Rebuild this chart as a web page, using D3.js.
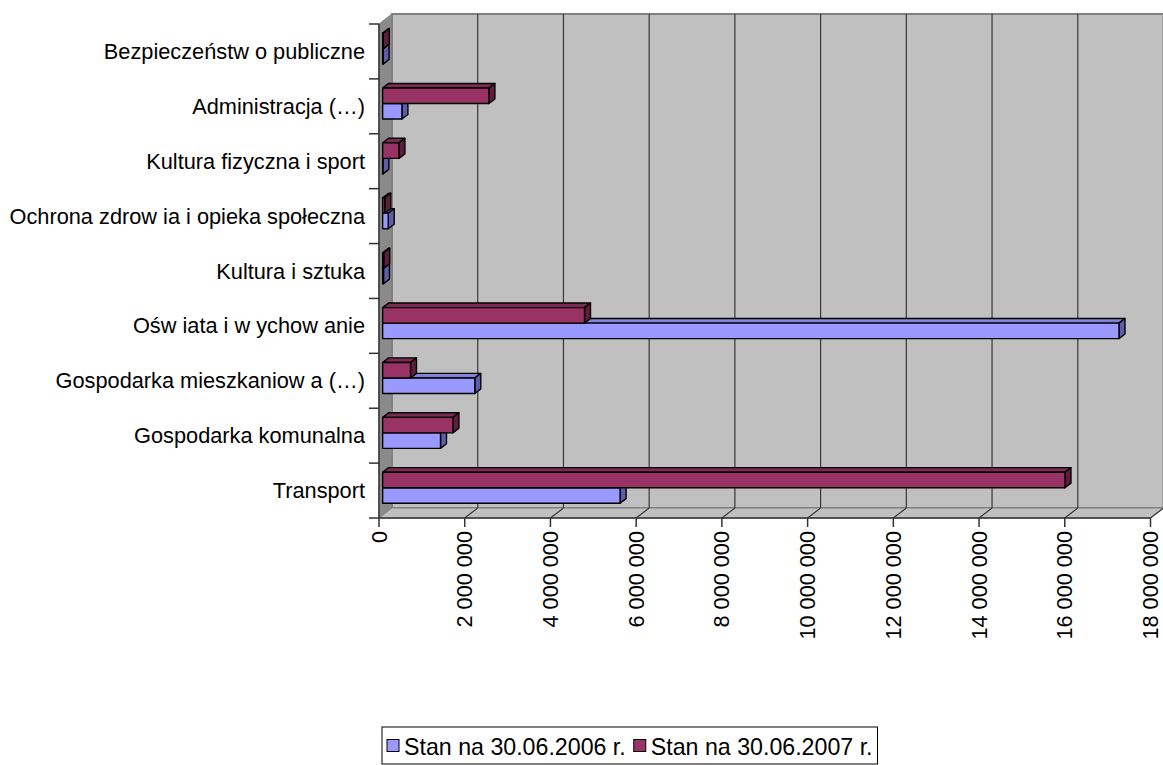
<!DOCTYPE html>
<html><head><meta charset="utf-8">
<script src="https://cdn.jsdelivr.net/npm/d3@7"></script>
<style>body{margin:0;background:#fff}svg{display:block}</style>
</head><body>
<svg id="c" width="1163" height="765"></svg>
<script>
// Categories bottom -> top (as displayed)
const categories = ["Transport","Gospodarka komunalna","Gospodarka mieszkaniow a (…)","Ośw iata i w ychow anie","Kultura i sztuka","Ochrona zdrow ia i opieka społeczna","Kultura fizyczna i sport","Administracja (…)","Bezpieczeństw o publiczne"];
const series2006 = [5540000,1350000,2150000,17180000,20000,130000,5000,450000,10000];
const series2007 = [15920000,1640000,650000,4710000,25000,50000,380000,2480000,15000];
const seriesNames = ["Stan na 30.06.2006 r.","Stan na 30.06.2007 r."];
const tickValues = [0,2000000,4000000,6000000,8000000,10000000,12000000,14000000,16000000,18000000];
const tickLabels = ["0","2 000 000","4 000 000","6 000 000","8 000 000","10 000 000","12 000 000","14 000 000","16 000 000","18 000 000"];

const svg = d3.select("#c");
const FONT = "'Liberation Sans', Arial, sans-serif";
const dx = 13, dy = -10;           // wall depth vector
const yTop = 24, yBot = 518;
const x = d3.scaleLinear().domain([0,18000000]).range([379,1150.5]);
const y = d3.scaleBand().domain(categories).range([yBot,yTop]).padding(0);
const bw = y.bandwidth();
const d0 = 0.28, d1 = 0.74;

// walls
const gWall = svg.append("g");
gWall.append("polygon")
  .attr("points",[[x(0),yTop],[x(0)+dx,yTop+dy],[x(0)+dx,yBot+dy],[x(0),yBot]].join(" "))
  .attr("fill","#8a8a8a").attr("stroke","#808080").attr("stroke-width",1);
gWall.append("rect")
  .attr("x",x(0)+dx).attr("y",yTop+dy).attr("width",x(18000000)-x(0)).attr("height",yBot-yTop)
  .attr("fill","#c0c0c0").attr("stroke","#808080").attr("stroke-width",2);
gWall.append("polygon")
  .attr("points",[[x(0),yBot],[x(0)+dx,yBot+dy],[x(18000000)+dx,yBot+dy],[x(18000000),yBot]].join(" "))
  .attr("fill","#c0c0c0").attr("stroke","#808080").attr("stroke-width",1);

// gridlines
const grid = tickValues.filter(v => v>0);
svg.append("g").selectAll("line.gv").data(grid.filter(v=>v<18000000)).join("line")
  .attr("x1",d=>x(d)+dx).attr("x2",d=>x(d)+dx).attr("y1",yTop+dy).attr("y2",yBot+dy)
  .attr("stroke","#383838").attr("stroke-width",1.2);
svg.append("g").selectAll("line.gf").data(grid).join("line")
  .attr("x1",d=>x(d)).attr("x2",d=>x(d)+dx).attr("y1",yBot).attr("y2",yBot+dy)
  .attr("stroke","#383838").attr("stroke-width",1.2);

// axes
const axisCol = "#333";
svg.append("line").attr("x1",x(0)).attr("x2",x(18000000)).attr("y1",yBot).attr("y2",yBot).attr("stroke",axisCol).attr("stroke-width",1.5);
svg.append("line").attr("x1",x(0)).attr("x2",x(0)).attr("y1",yTop).attr("y2",yBot).attr("stroke",axisCol).attr("stroke-width",1.5);
svg.append("g").selectAll("line").data(tickValues).join("line")
  .attr("x1",d=>x(d)).attr("x2",d=>x(d)).attr("y1",yBot).attr("y2",yBot+9)
  .attr("stroke",axisCol).attr("stroke-width",1.5);
const bounds = categories.map(c=>y(c)).concat([yBot]);
svg.append("g").selectAll("line").data(bounds).join("line")
  .attr("x1",x(0)-10).attr("x2",x(0)).attr("y1",d=>d).attr("y2",d=>d)
  .attr("stroke",axisCol).attr("stroke-width",1.5);

// tick labels (rotated)
svg.append("g").selectAll("text").data(tickValues).join("text")
  .attr("transform",(d)=>`translate(${x(d)},531) rotate(-90)`)
  .attr("text-anchor","end").attr("dominant-baseline","central")
  .attr("font-family",FONT).attr("font-size",21.7).attr("fill","#000")
  .text((d,i)=>tickLabels[i]);

// category labels
svg.append("g").selectAll("text").data(categories).join("text")
  .attr("x",365).attr("y",d=>y(d)+bw/2)
  .attr("text-anchor","end").attr("dominant-baseline","central")
  .attr("font-family",FONT).attr("font-size",21.75).attr("fill","#000")
  .text(d=>d);

// bars
const ex = (d1-d0)*dx, ey = (d1-d0)*dy;
const ox = d0*dx, oy = d0*dy;
const barH = bw*0.2825;
const pal = [
  {front:"#9999ff", top:"#8282dc", side:"#5e5ea8"},
  {front:"#993366", top:"#7d2a54", side:"#5e1f3f"}
];
function bar(g, v, yt, yb, p){
  const xl = x(0)+ox, xr = x(v)+ox;
  g.append("polygon").attr("points",[[xl,yt],[xr,yt],[xr+ex,yt+ey],[xl+ex,yt+ey]].join(" "))
    .attr("fill",p.top).attr("stroke","#000").attr("stroke-width",1.4).attr("stroke-linejoin","round");
  g.append("polygon").attr("points",[[xr,yt],[xr+ex,yt+ey],[xr+ex,yb+ey],[xr,yb]].join(" "))
    .attr("fill",p.side).attr("stroke","#000").attr("stroke-width",1.4).attr("stroke-linejoin","round");
  g.append("polygon").attr("points",[[xl,yt],[xr,yt],[xr,yb],[xl,yb]].join(" "))
    .attr("fill",p.front).attr("stroke","#000").attr("stroke-width",1.4).attr("stroke-linejoin","round");
}
const gBars = svg.append("g");
categories.forEach((c,i)=>{
  const top = y(c) + (bw - 2*barH)/2 + oy;
  bar(gBars, series2006[i], top+barH, top+2*barH, pal[0]);
  bar(gBars, series2007[i], top, top+barH, pal[1]);
});

// legend
const lg = svg.append("g");
const box = lg.append("rect").attr("fill","#fff").attr("stroke","#000").attr("stroke-width",1);
const items = [];
seriesNames.forEach((n,i)=>{
  const sw = lg.append("rect").attr("width",12).attr("height",12).attr("fill",pal[i].front).attr("stroke","#000").attr("stroke-width",1);
  const t = lg.append("text").attr("font-family",FONT).attr("font-size",23.2).attr("dominant-baseline","central").text(n);
  items.push({sw,t,w:t.node().getComputedTextLength()});
});
const pad = 5, gap = 5, between = 8;
let total = pad;
items.forEach((it,i)=>{ total += 12 + gap + it.w + (i<items.length-1?between:0); });
total += pad;
const lx = 382, ly = 727, lh = 37, lc = ly + lh/2;
box.attr("x",lx).attr("y",ly).attr("width",total).attr("height",lh);
let cx = lx + pad;
items.forEach((it)=>{
  it.sw.attr("x",cx).attr("y",lc-6);
  cx += 12 + gap;
  it.t.attr("x",cx).attr("y",lc+1);
  cx += it.w + between;
});
</script>
</body></html>
